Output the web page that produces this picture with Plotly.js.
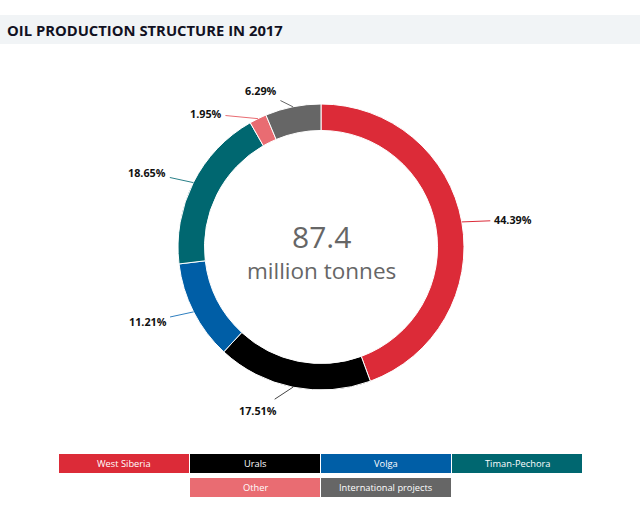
<!DOCTYPE html>
<html>
<head>
<meta charset="utf-8">
<script src="https://cdn.plot.ly/plotly-3.0.1.min.js"></script>
<style>
html,body{margin:0;padding:0;background:#fff;}
#chart{width:640px;height:512px;}
</style>
</head>
<body>
<div id="chart"></div>
<script>
// ---- data ----
const categories = ["West Siberia", "Urals", "Volga", "Timan-Pechora", "Other", "International projects"];
const shares = [44.39, 17.51, 11.21, 18.65, 1.95, 6.29];
const totalValue = "87.4";
const totalUnit = "million tonnes";
const chartTitle = "OIL PRODUCTION STRUCTURE IN 2017";

// ---- style ----
const colors = ["#dc2b38", "#000000", "#005ea6", "#006770", "#e96c72", "#666666"];
const leaderColors = ["#dc2b38", "#444444", "#2f7fc0", "#2a8088", "#e96c72", "#666666"];
// label text offsets from the slice edge (pixels)
const labelOffsets = [[51, -2], [-35, 23], [-46, 10], [-46, -10], [-52, -5], [-32, -16]];
// legend layout: [row, col]
const legendSlots = [[0, 0], [0, 1], [0, 2], [0, 3], [1, 1], [1, 2]];

const W = 640, H = 512;
const cx = 321, cy = 247, R = 143;
const px = x => x / W;
const py = y => 1 - y / H;

const trace = {
  type: "pie",
  labels: categories,
  values: shares,
  sort: false,
  direction: "clockwise",
  rotation: 0,
  hole: 0.815,
  textinfo: "none",
  hoverinfo: "none",
  marker: {colors: colors, line: {color: "#ffffff", width: 1}},
  domain: {x: [px(cx - R), px(cx + R)], y: [py(cy + R), py(cy - R)]},
  showlegend: false
};

const total = shares.reduce((a, b) => a + b, 0);
const annotations = [];
const shapes = [];

// title band
shapes.push({type: "rect", xref: "paper", yref: "paper", x0: 0, x1: 1, y0: py(44), y1: py(15),
  fillcolor: "#f1f4f6", line: {width: 0}, layer: "below"});
annotations.push({xref: "paper", yref: "paper", x: px(5), y: py(30), xanchor: "left", yanchor: "middle",
  text: "<b>" + chartTitle + "</b>", showarrow: false,
  font: {family: "Open Sans", size: 14.8, color: "#111122"}});

// centre text
annotations.push({xref: "paper", yref: "paper", x: px(cx), y: py(236), xanchor: "center", yanchor: "middle",
  text: totalValue, showarrow: false, borderpad: 0, font: {family: "Open Sans", size: 30, color: "#666666"}});
annotations.push({xref: "paper", yref: "paper", x: px(cx), y: py(270), xanchor: "center", yanchor: "middle",
  text: totalUnit, showarrow: false, borderpad: 0, font: {family: "Open Sans", size: 22.5, color: "#666666"}});

// percentage labels with leader lines
let cum = 0;
shares.forEach((v, i) => {
  const mid = (cum + v / 2) / total * 2 * Math.PI;
  cum += v;
  const tx = cx + R * Math.sin(mid);
  const ty = cy - R * Math.cos(mid);
  annotations.push({
    xref: "paper", yref: "paper", x: px(tx), y: py(ty),
    ax: labelOffsets[i][0], ay: labelOffsets[i][1],
    text: "<b>" + v.toFixed(2) + "%</b>",
    showarrow: true, arrowhead: 0, arrowwidth: 1, arrowcolor: leaderColors[i],
    standoff: 0, borderpad: 3,
    font: {family: "Open Sans", size: 10.8, color: "#111111"}
  });
});

// legend boxes
const boxW = 130, boxH = 19, gap = 1, left0 = 59, rowTop = [454, 478];
categories.forEach((c, i) => {
  const [row, col] = legendSlots[i];
  const x0 = left0 + col * (boxW + gap);
  const y0 = rowTop[row];
  shapes.push({type: "rect", xref: "paper", yref: "paper",
    x0: px(x0), x1: px(x0 + boxW), y0: py(y0 + boxH), y1: py(y0),
    fillcolor: colors[i], line: {width: 0}});
  annotations.push({xref: "paper", yref: "paper", x: px(x0 + boxW / 2), y: py(y0 + boxH / 2),
    xanchor: "center", yanchor: "middle", text: c, showarrow: false,
    font: {family: "Open Sans", size: 9.3, color: "#ffffff"}});
});

const layout = {
  width: W, height: H,
  margin: {l: 0, r: 0, t: 0, b: 0},
  paper_bgcolor: "#ffffff",
  plot_bgcolor: "#ffffff",
  showlegend: false,
  shapes: shapes,
  annotations: annotations
};

Plotly.newPlot("chart", [trace], layout, {staticPlot: true, displayModeBar: false});
</script>
</body>
</html>
